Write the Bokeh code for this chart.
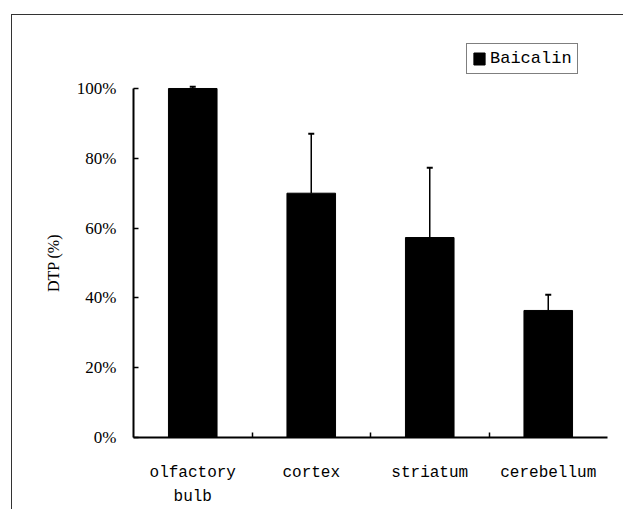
from bokeh.plotting import figure
from bokeh.models import FixedTicker, Whisker, TeeHead, ColumnDataSource, Legend, LegendItem, NumeralTickFormatter
from bokeh.embed import file_html
from bokeh.resources import INLINE

categories = ["olfactory\nbulb", "cortex", "striatum", "cerebellum"]
values = [100.0, 70.0, 57.3, 36.4]
errors = [0.5, 17.0, 20.0, 4.5]
series_name = "Baicalin"
y_label = "DTP (%)"
y_ticks = [0, 20, 40, 60, 80, 100]

xs = [i + 0.5 for i in range(len(categories))]
src = ColumnDataSource(dict(
    x=xs,
    top=[v / 100 for v in values],
    upper=[(v + e) / 100 for v, e in zip(values, errors)],
))

p = figure(width=612, height=495, output_backend="svg", toolbar_location=None,
           x_range=(0, len(categories)), y_range=(0, 1.1375),
           min_border_left=121, min_border_top=25, min_border_right=17, min_border_bottom=73)
p.styles = {"margin-left": "11px", "margin-top": "14px",
            "border-left": "1px solid #333", "border-top": "1px solid #333"}
p.outline_line_color = None
p.grid.visible = False
p.background_fill_color = "white"
p.border_fill_color = "white"

r = p.vbar(x="x", top="top", width=0.41, bottom=0, source=src,
           fill_color="black", line_color="black")

w = Whisker(source=src, base="x", lower="top", upper="upper",
            line_color="black", line_width=1.5,
            upper_head=TeeHead(size=6, line_color="black", line_width=2), lower_head=None)
p.add_layout(w)

# y axis
ya = p.yaxis[0]
ya.ticker = FixedTicker(ticks=[t / 100 for t in y_ticks], minor_ticks=[])
ya.formatter = NumeralTickFormatter(format="0%")
ya.bounds = (0, 1)
ya.axis_line_width = 2
ya.axis_line_color = "black"
ya.major_tick_in = 5
ya.major_tick_out = 0
ya.major_tick_line_width = 1.5
ya.major_label_standoff = 17
ya.major_label_text_font = "Liberation Serif"
ya.major_label_text_font_size = "17px"
ya.major_label_text_color = "black"
# trailing non-breaking spaces centre the label on the 0-100% span rather than the whole frame
ya.axis_label = y_label + "\u00a0" * 12
ya.axis_label_text_font = "Liberation Serif"
ya.axis_label_text_font_size = "16px"
ya.axis_label_text_font_style = "normal"
ya.axis_label_text_color = "black"
ya.axis_label_standoff = 12

# x axis
xa = p.xaxis[0]
xa.ticker = FixedTicker(ticks=xs, minor_ticks=list(range(1, len(categories))))
xa.major_label_overrides = {x: c for x, c in zip(xs, categories)}
xa.axis_line_width = 2
xa.axis_line_color = "black"
xa.major_tick_line_color = None
xa.minor_tick_in = 5
xa.minor_tick_out = 0
xa.minor_tick_line_width = 1.5
xa.minor_tick_line_color = "black"
xa.major_label_standoff = 20
xa.major_label_text_font = "Liberation Mono"
xa.major_label_text_font_size = "16px"
xa.major_label_text_color = "black"
xa.major_label_text_line_height = 1.35

legend = Legend(items=[LegendItem(label=series_name, renderers=[r])],
                location=(333, 363), orientation="vertical")
legend.label_text_font = "Liberation Mono"
legend.label_text_font_size = "17px"
legend.label_text_color = "black"
legend.glyph_width = 14
legend.glyph_height = 15
legend.label_height = 19
legend.label_standoff = 4
legend.padding = 5
legend.margin = 0
legend.spacing = 0
legend.border_line_color = "black"
legend.border_line_width = 1
legend.background_fill_alpha = 1
p.add_layout(legend)

open("out.html", "w").write(file_html(p, INLINE))
